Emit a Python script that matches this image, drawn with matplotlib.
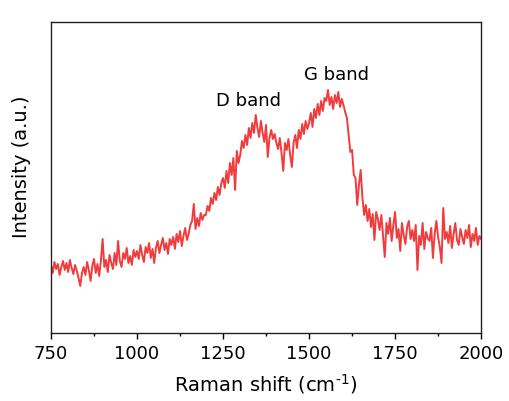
import numpy as np
import matplotlib
matplotlib.use("Agg")
import matplotlib.pyplot as plt
from matplotlib.ticker import MultipleLocator

plt.rcParams['font.family'] = ['DejaVu Sans']
plt.rcParams['mathtext.default'] = 'regular'

# Raman shift grid (cm-1) and intensity (arbitrary units)
shift = np.arange(750, 2001, 5)
intensity = [
    68, 60, 71, 64, 69, 58, 66, 72, 63, 70,
    61, 73, 65, 59, 68, 62, 55, 47, 60, 66,
    58, 71, 63, 52, 67, 74, 60, 69, 57, 72,
    94, 66, 73, 61, 78, 70, 64, 80, 68, 92,
    72, 66, 80, 74, 85, 70, 77, 68, 83, 76,
    82, 74, 88, 78, 71, 86, 80, 90, 75, 84,
    70, 85, 92, 80, 88, 95, 83, 90, 79, 94,
    88, 96, 84, 99, 91, 102, 87, 97, 105, 93,
    99, 108, 112, 129, 104, 115, 107, 120, 113, 118,
    118, 127, 122, 135, 129, 140, 133, 146, 138, 150,
    155, 145, 162, 150, 170, 158, 175, 143, 182, 170,
    178, 192, 185, 198, 188, 205, 195, 210, 200, 218,
    205, 196, 212, 200, 191, 208, 176, 195, 203, 194,
    199, 190, 184, 195, 180, 162, 190, 183, 194, 178,
    166, 190, 198, 185, 203, 194, 209, 199, 212, 204,
    210, 220, 206, 224, 215, 229, 218, 232, 222, 235,
    232, 243, 228, 236, 224, 238, 230, 241, 226, 234,
    228, 221, 215, 198, 181, 183, 158, 155, 128, 148,
    163, 136, 118, 128, 112, 124, 106, 119, 93, 121,
    114, 103, 118, 97, 76, 110, 99, 115, 92, 108,
    121, 95, 104, 82, 110, 98, 89, 106, 112, 94,
    103, 92, 108, 63, 97, 88, 110, 84, 101, 95,
    92, 105, 75, 99, 112, 96, 86, 70, 125, 94,
    101, 90, 107, 85, 99, 110, 93, 88, 104, 96,
    89, 103, 95, 108, 86, 99, 92, 105, 88, 97,
    94,
]

fig = plt.figure(figsize=(5.09, 4.01), dpi=100)
ax = fig.add_axes([0.1002, 0.1696, 0.845, 0.7756])

ax.plot(shift, intensity, color='#f03c3c', lw=1.4)

ax.set_xlim(750, 2000)
ax.set_ylim(0, 311)
ax.xaxis.set_major_locator(MultipleLocator(250))
ax.xaxis.set_minor_locator(MultipleLocator(125))
ax.tick_params(axis='x', which='major', direction='out', length=4, width=1, labelsize=13, pad=5)
ax.tick_params(axis='x', which='minor', direction='out', length=2.5, width=1)
ax.set_yticks([])
for s in ax.spines.values():
    s.set_linewidth(1)
    s.set_color('#222222')

ax.set_xlabel(r'Raman shift (cm$^{\text{-1}}$)', fontsize=14, labelpad=6)
ax.set_ylabel('Intensity (a.u.)', fontsize=14)
ax.yaxis.set_label_coords(-0.046, 0.535)

ax.text(1323, 232, 'D band', fontsize=13, ha='center', va='center')
ax.text(1581, 258, 'G band', fontsize=13, ha='center', va='center')

fig.savefig('out.png', dpi=100)
